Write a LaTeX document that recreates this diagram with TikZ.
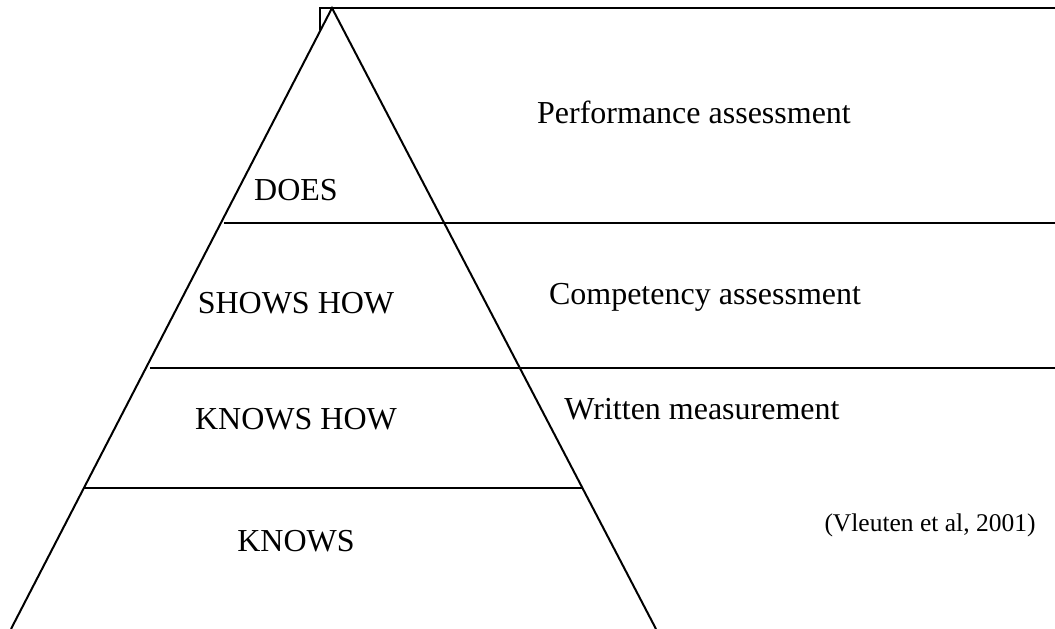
\documentclass[tikz,border=0pt]{standalone}
\usepackage{fontspec}
\setmainfont{Liberation Serif}
\begin{document}
\begin{tikzpicture}[x=1pt,y=-1pt,
  ln/.style={line width=2pt},
  lbl/.style={anchor=base,inner sep=0pt,font=\fontsize{32}{36}\selectfont},
  src/.style={anchor=base,inner sep=0pt,font=\fontsize{25.5}{29}\selectfont}]
\useasboundingbox (0,0) rectangle (1055,629);
% pyramid
\coordinate (apex) at (332,8);
\coordinate (bl) at (11,629);
\coordinate (br) at (656,629);
\coordinate (tl) at (320,8);
\coordinate (tr) at (1055,8);
\coordinate (tv) at (320,30);
\draw[ln] (bl) -- (apex) -- (br);
\draw[line width=2.8pt] (tv) -- (tl) -- (tr);
% level lines
\coordinate (a1) at (224,223); \coordinate (a2) at (1055,223);
\coordinate (b1) at (150,368); \coordinate (b2) at (1055,368);
\coordinate (c1) at (83,488);  \coordinate (c2) at (583,488);
\draw[ln] (a1) -- (a2);
\draw[ln] (b1) -- (b2);
\draw[ln] (c1) -- (c2);
% labels
\node[lbl] (does) at (296,200) {DOES};
\node[lbl] (shows) at (296,313) {SHOWS HOW};
\node[lbl] (knowshow) at (296,429) {KNOWS HOW};
\node[lbl] (knows) at (296,551) {KNOWS};
\node[lbl] (perf) at (694,123) {Performance assessment};
\node[lbl] (comp) at (705,304) {Competency assessment};
\node[lbl] (writ) at (702,419) {Written measurement};
\node[src] (ref) at (930,531) {(Vleuten et al, 2001)};
\end{tikzpicture}
\end{document}
